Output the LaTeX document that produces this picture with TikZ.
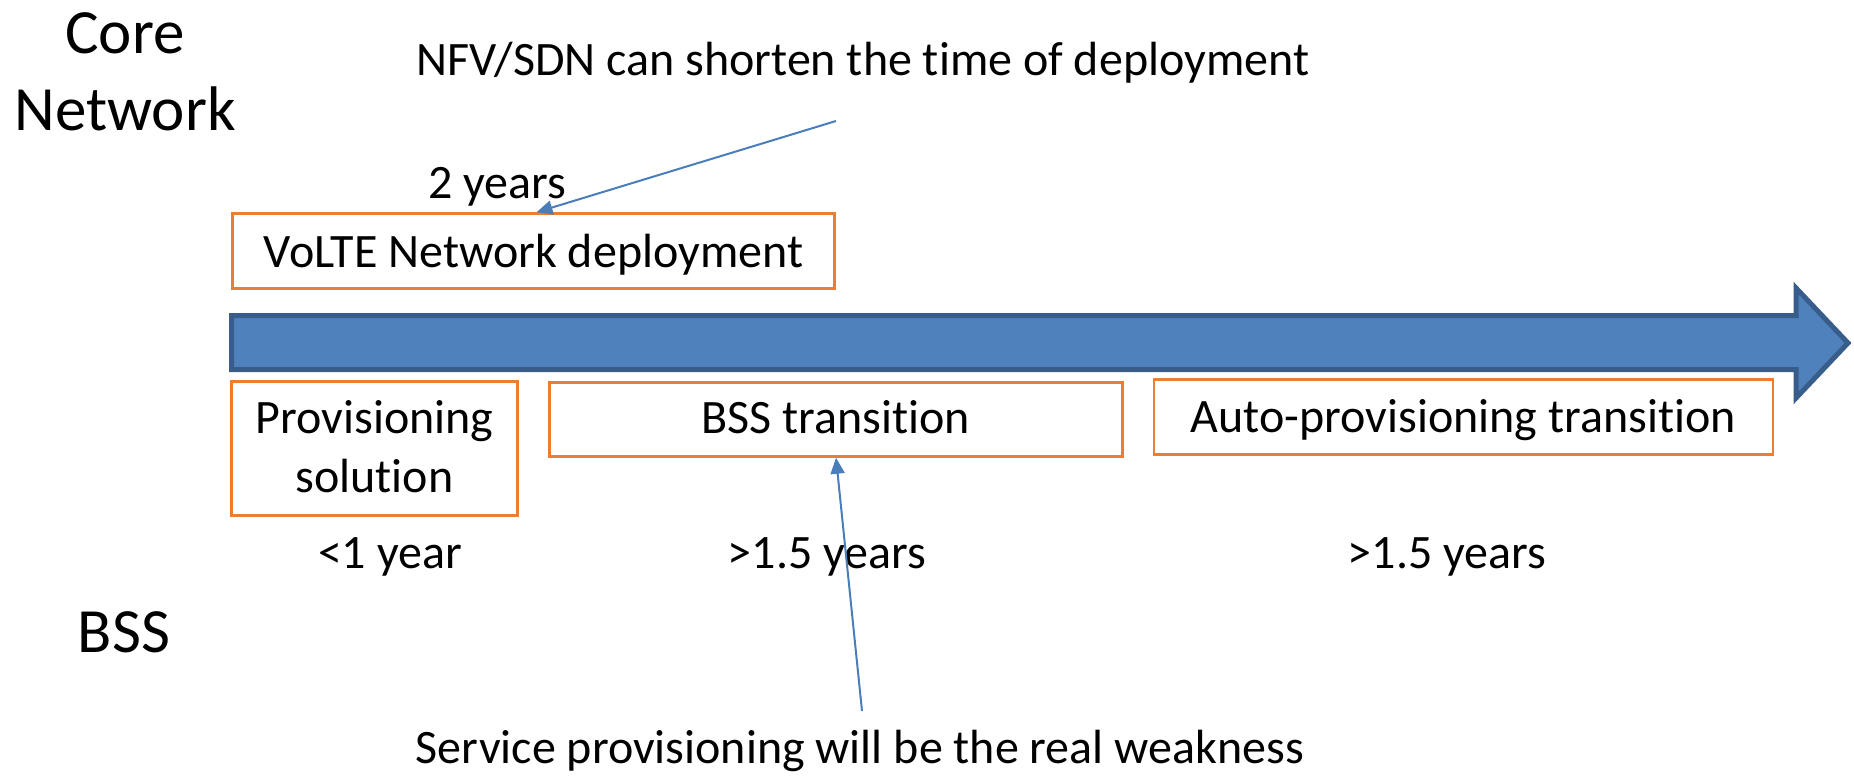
\documentclass[tikz,border=0pt]{standalone}
\usepackage{fontspec}
\setmainfont{Carlito}[Ligatures={NoCommon,NoContextual},RawFeature={-liga;-clig;-calt;-dlig}]
\usetikzlibrary{arrows.meta}
\definecolor{boxorange}{RGB}{237,125,49}
\definecolor{arrowfill}{RGB}{79,129,189}
\definecolor{arrowedge}{RGB}{56,93,138}
\definecolor{connblue}{RGB}{74,126,187}
\begin{document}
\begin{tikzpicture}[x=1pt,y=-1pt,
  stagebox/.style={draw=boxorange, line width=2.5pt, inner sep=0pt, fill=white,
    font=\fontsize{48}{59}\selectfont, text height=34pt},
  plaintext/.style={font=\fontsize{48}{59}\selectfont, inner sep=0pt, anchor=base},
  sidetext/.style={font=\fontsize{63}{77}\selectfont, inner sep=0pt, anchor=base, align=center},
  connector/.style={draw=connblue, line width=2pt, -{Triangle[length=16pt,width=14pt]}},
  bigarrow/.style={fill=arrowfill, draw=arrowedge, line width=5pt, line join=miter}]
\useasboundingbox (0,0) rectangle (1854,778);

% timeline arrow
\draw[bigarrow] (231.5,315.5) -- (1796,315.5) -- (1796,288) -- (1848,343) -- (1796,398)
  -- (1796,369.5) -- (231.5,369.5) -- cycle;

% side labels
\node[sidetext] (core) at (125,131) {Core\\Network};
\node[sidetext] (bss) at (124,652) {BSS};

% boxes
\node[stagebox, minimum width=602pt, minimum height=75pt, text depth=2pt] (volte) at (533.5,251) {VoLTE Network deployment};
\node[stagebox, minimum width=286pt, minimum height=134pt, align=center, text height=92pt, text depth=5pt] (prov) at (374.5,448.5) {Provisioning\\solution};
\node[stagebox, minimum width=619pt, minimum height=75pt, text depth=4pt] (auto) at (1463.5,417) {Auto-provisioning transition};
\node[stagebox, minimum width=573pt, minimum height=74pt, text depth=7pt] (bsst) at (836,419.5) {BSS transition};

% durations
\node[plaintext] (twoy) at (497,199) {2 years};
\node[plaintext] (lt1) at (390,568) {<1 year};
\node[plaintext] (gt1) at (827,568) {>1.5 years};
\node[plaintext] (gt2) at (1447,568) {>1.5 years};

% comments
\node[plaintext] (nfv) at (863,76) {NFV/SDN can shorten the time of deployment};
\node[plaintext] (svc) at (860,763) {Service provisioning will be the real weakness};

% connectors
\coordinate (nfvstart) at (836,121);
\coordinate (svcstart) at (862,711);
\draw[connector] (nfvstart) -- ([xshift=3pt]volte.north);
\draw[connector] (svcstart) -- (bsst.south);
\end{tikzpicture}
\end{document}
